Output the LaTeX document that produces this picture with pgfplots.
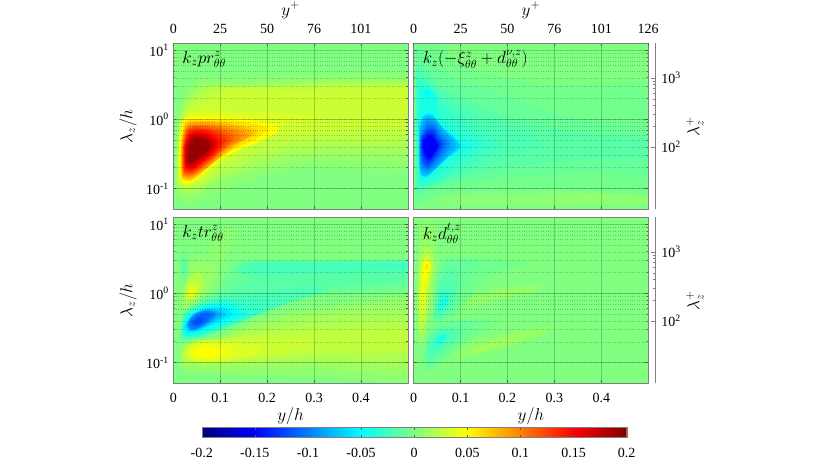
\documentclass[border=0pt]{standalone}
\usepackage{fontspec}
\setmainfont{Liberation Serif}
\usepackage{pgfplots}
\pgfplotsset{compat=1.18}

% jet levels, named by thousandths: p50 = +0.05, m50 = -0.05
\definecolor{base}{rgb}{0.5,1,0.5}
\pgfplotsforeachungrouped \lev in {5,10,...,200} {
  \pgfmathsetmacro\jr{max(0,min(1,min(0.5+\lev/100,2.5-\lev/100)))}
  \pgfmathsetmacro\jg{max(0,min(1,1.5-\lev/100))}
  \pgfmathsetmacro\jb{max(0,min(1,min(2.5+\lev/100,0.5-\lev/100)))}
  \edef\jdef{\noexpand\definecolor{p\lev}{rgb}{\jr,\jg,\jb}}\jdef
  \pgfmathsetmacro\jr{max(0,min(1,min(0.5-\lev/100,2.5+\lev/100)))}
  \pgfmathsetmacro\jb{max(0,min(1,min(2.5-\lev/100,0.5+\lev/100)))}
  \edef\jdef{\noexpand\definecolor{m\lev}{rgb}{\jr,\jg,\jb}}\jdef
}
\newcommand\cf[2]{\addplot[draw=none,fill=#1,smooth] coordinates {#2} -- cycle;}
\newcommand\tkfont{\fontsize{14}{16}\selectfont}
\newcommand\mtfont{\fontsize{17}{19}\selectfont}

\begin{document}
\begin{tikzpicture}
\path[use as bounding box] (0pt,0pt) rectangle (830pt,457pt);

% ---- k_z pr
\begin{axis}[scale only axis, width=234.6pt, height=166pt,
    xmin=0, xmax=0.5, ymode=log, ymin=0.05, ymax=12.6,
    axis line style={gray}, tick style={black!65, line width=0.5pt},
    major tick length=3pt, minor tick length=1.7pt, tick align=inside,
    ticklabel style={font=\tkfont}, label style={font=\mtfont},
    axis on top, axis background/.style={fill=base},
    xtick={0,0.1,0.2,0.3,0.4}, ytick={0.1,1,10},
    xtick pos=bottom, ytick pos=both,
    xmajorgrids, ymajorgrids, yminorgrids,
    major grid style={black, opacity=0.2, line width=0.5pt},
    minor grid style={black, dotted, opacity=0.22, line width=0.35pt},
    xticklabels={},
    yticklabels={10\textsuperscript{-1},10\textsuperscript{0},10\textsuperscript{1}},
    yticklabel style={xshift=-1pt},
    ylabel={$\lambda_z/h$},
    ylabel style={at={(axis description cs:-0.193,0.5)},anchor=center},
    at={(173.3pt,247.7pt)}, anchor=south west]
\cf{p5}{(.004,.1)(.004,.35)(.008,.9)(.018,2)(.05,3.8)(.15,4)(.55,3.9)(.55,.22)(.3,.2)(.2,.16)(.1,.09)(.04,.062)(.012,.065)}
\cf{p10}{(.006,.1)(.006,.35)(.01,.9)(.024,1.9)(.06,3.3)(.15,3.4)(.55,3.3)(.55,.3)(.3,.26)(.2,.2)(.1,.12)(.05,.08)(.015,.075)}
\cf{p15}{(.008,.11)(.007,.35)(.012,.9)(.028,1.8)(.065,3)(.15,3.15)(.55,3.1)(.55,.42)(.3,.33)(.2,.24)(.1,.14)(.05,.09)(.018,.085)}
\cf{p20}{(.009,.12)(.009,.35)(.014,.9)(.032,1.7)(.07,2.8)(.15,3)(.55,3)(.55,.52)(.3,.4)(.2,.29)(.1,.16)(.05,.1)(.02,.095)}
\cf{p25}{(.01,.12)(.01,.35)(.016,.9)(.036,1.6)(.08,2.5)(.15,2.9)(.55,2.9)(.55,.68)(.3,.5)(.2,.36)(.12,.22)(.06,.12)(.025,.1)}
\cf{p30}{(.011,.13)(.011,.35)(.018,.9)(.04,1.5)(.09,2.1)(.12,2.7)(.27,2.55)(.55,2.6)(.55,.85)(.35,.72)(.2,.5)(.12,.26)(.06,.13)(.03,.105)}
\cf{p35}{(.012,.135)(.012,.42)(.02,1)(.045,1.3)(.12,1.3)(.25,1.2)(.3,1.02)(.2,.68)(.12,.3)(.06,.14)(.03,.11)}
\cf{p40}{(.013,.14)(.013,.42)(.022,1)(.05,1.18)(.12,1.18)(.24,.92)(.18,.6)(.12,.35)(.06,.15)(.03,.115)}
\cf{p50}{(.015,.16)(.015,.42)(.024,.98)(.055,1.09)(.12,1.04)(.19,.92)(.226,.72)(.19,.5)(.14,.36)(.09,.24)(.04,.125)(.018,.125)}
\cf{p60}{(.0155,.17)(.016,.42)(.025,.93)(.055,1.0)(.12,.97)(.18,.84)(.2,.7)(.17,.5)(.13,.37)(.09,.25)(.04,.13)(.018,.135)}
\cf{p70}{(.016,.18)(.017,.42)(.026,.87)(.055,.95)(.115,.9)(.18,.68)(.14,.44)(.09,.25)(.04,.135)(.019,.14)}
\cf{p80}{(.017,.19)(.018,.42)(.027,.83)(.055,.91)(.11,.86)(.17,.65)(.13,.42)(.085,.235)(.04,.14)(.02,.145)}
\cf{p90}{(.018,.2)(.019,.42)(.028,.79)(.055,.87)(.105,.81)(.16,.6)(.115,.38)(.08,.225)(.04,.146)(.02,.152)}
\cf{p100}{(.019,.21)(.02,.42)(.029,.76)(.055,.83)(.1,.78)(.145,.58)(.11,.37)(.075,.225)(.04,.152)(.021,.158)}
\cf{p110}{(.02,.22)(.021,.42)(.03,.73)(.055,.8)(.095,.75)(.132,.56)(.105,.36)(.072,.225)(.04,.158)(.022,.165)}
\cf{p120}{(.021,.23)(.022,.42)(.031,.71)(.055,.77)(.09,.71)(.122,.54)(.1,.35)(.07,.23)(.04,.165)(.023,.17)}
\cf{p130}{(.022,.24)(.023,.42)(.032,.68)(.055,.74)(.086,.68)(.113,.52)(.095,.34)(.068,.235)(.04,.172)(.024,.18)}
\cf{p140}{(.023,.25)(.024,.42)(.034,.65)(.055,.7)(.082,.65)(.105,.49)(.09,.33)(.065,.24)(.04,.18)(.025,.19)}
\cf{p150}{(.024,.26)(.025,.42)(.036,.62)(.055,.66)(.078,.61)(.097,.46)(.085,.33)(.062,.24)(.04,.19)(.026,.2)}
\cf{p160}{(.025,.27)(.027,.42)(.038,.6)(.055,.63)(.075,.58)(.092,.45)(.08,.33)(.06,.25)(.04,.2)(.027,.21)}
\cf{p170}{(.026,.28)(.029,.42)(.04,.58)(.055,.6)(.072,.56)(.087,.44)(.076,.33)(.058,.26)(.04,.21)(.028,.22)}
\cf{p180}{(.028,.29)(.031,.42)(.04,.55)(.055,.57)(.07,.53)(.082,.43)(.072,.33)(.055,.27)(.04,.225)(.03,.23)}
\cf{p190}{(.03,.3)(.035,.43)(.05,.53)(.065,.5)(.077,.42)(.07,.34)(.055,.29)(.04,.24)(.032,.25)}
\node[font=\mtfont,anchor=west] at (axis cs:.012,7.4) {$k_z pr^z_{\theta\theta}$};
\end{axis}
% top scale, left
\begin{axis}[scale only axis, width=234.6pt, height=166pt,
    xmin=0, xmax=0.5, ymin=0, ymax=1,
    axis line style={gray}, tick style={black!65, line width=0.5pt},
    major tick length=3pt, tick align=inside,
    ticklabel style={font=\tkfont}, label style={font=\mtfont},
    hide y axis, axis x line*=top,
    xtick={0,0.1,0.2,0.3,0.4}, xticklabels={0,25,50,76,101},
    xticklabel style={yshift=6.5pt},
    xlabel={$y^+$},
    xlabel style={at={(axis description cs:0.5,1.2)},anchor=center},
    at={(173.3pt,247.7pt)}, anchor=south west]
\addplot[draw=none] coordinates {(0,0.5)(0.5,0.5)};
\end{axis}

% ---- k_z(-xi + d^nu)
\begin{axis}[scale only axis, width=234.6pt, height=166pt,
    xmin=0, xmax=0.5, ymode=log, ymin=0.05, ymax=12.6,
    axis line style={gray}, tick style={black!65, line width=0.5pt},
    major tick length=3pt, minor tick length=1.7pt, tick align=inside,
    ticklabel style={font=\tkfont}, label style={font=\mtfont},
    axis on top, axis background/.style={fill=base},
    xtick={0,0.1,0.2,0.3,0.4}, ytick={0.1,1,10},
    xtick pos=bottom, ytick pos=both,
    xmajorgrids, ymajorgrids, yminorgrids,
    major grid style={black, opacity=0.2, line width=0.5pt},
    minor grid style={black, dotted, opacity=0.22, line width=0.35pt},
    xticklabels={}, yticklabels={},
    at={(413.6pt,247.7pt)}, anchor=south west]
\cf{p5}{(.04,.072)(.2,.075)(.3,.084)(.55,.09)(.55,.062)(.3,.058)(.1,.06)}
\cf{p10}{(.33,.076)(.37,.08)(.42,.075)(.37,.07)}
\cf{m5}{(.002,14)(.05,14)(.1,6)(.2,4)(.3,3.2)(.55,2.7)(.55,.1)(.3,.098)(.15,.09)(.07,.085)(.03,.065)(.01,.058)(.002,.1)(.002,1)}
\cf{m10}{(.003,11)(.02,10)(.05,5.5)(.1,3.6)(.2,2.2)(.35,1.0)(.55,.62)(.55,.17)(.35,.17)(.2,.145)(.1,.115)(.04,.09)(.015,.075)(.004,.085)(.003,1)}
\cf{m15}{(.004,6)(.02,6)(.05,3.4)(.1,2.2)(.2,1.1)(.35,.65)(.55,.5)(.55,.29)(.35,.26)(.2,.2)(.1,.14)(.04,.105)(.015,.09)(.005,.1)(.004,1)}
\cf{m20}{(.005,5)(.02,4.7)(.05,2.9)(.1,1.7)(.17,.95)(.25,.6)(.27,.42)(.2,.28)(.1,.165)(.04,.115)(.015,.1)(.006,.11)(.005,1)}
\cf{m25}{(.006,4.2)(.02,4)(.05,2.5)(.09,1.4)(.14,.8)(.185,.42)(.13,.24)(.07,.135)(.03,.108)(.01,.115)(.006,1)}
\cf{m30}{(.007,3.6)(.02,3.4)(.045,2.2)(.08,1.2)(.12,.7)(.16,.42)(.11,.25)(.06,.14)(.03,.115)(.012,.125)(.008,1)}
\cf{m35}{(.009,3.1)(.02,3)(.035,2.2)(.06,1.1)(.1,.65)(.14,.42)(.09,.25)(.05,.15)(.025,.125)(.012,.135)(.009,1)}
\cf{m40}{(.012,2.6)(.03,2.9)(.048,2.2)(.055,1.1)(.09,.62)(.125,.42)(.08,.26)(.045,.16)(.025,.135)(.013,.15)(.01,.8)}
\cf{m50}{(.012,.9)(.022,1.2)(.04,1.2)(.06,.8)(.105,.42)(.07,.27)(.04,.17)(.025,.145)(.014,.165)(.011,.4)}
\cf{m50}{(.022,2.4)(.03,2.7)(.037,2.4)(.03,2.1)}
\cf{m60}{(.012,.85)(.023,1.16)(.041,1.15)(.06,.78)(.1,.42)(.07,.272)(.041,.175)(.0255,.147)(.014,.168)(.0112,.4)}
\cf{m70}{(.0125,.8)(.024,1.12)(.042,1.1)(.061,.76)(.097,.42)(.07,.275)(.042,.18)(.026,.15)(.0145,.17)(.0115,.4)}
\cf{m80}{(.013,.7)(.025,1.05)(.045,1.0)(.062,.72)(.09,.43)(.07,.28)(.045,.19)(.028,.16)(.015,.18)(.012,.4)}
\cf{m90}{(.014,.6)(.027,.95)(.045,.9)(.058,.68)(.08,.44)(.065,.29)(.045,.2)(.03,.175)(.016,.2)(.013,.4)}
\cf{m100}{(.015,.55)(.028,.85)(.045,.82)(.056,.62)(.073,.44)(.06,.3)(.043,.215)(.03,.19)(.017,.22)(.014,.4)}
\cf{m110}{(.016,.55)(.03,.78)(.045,.75)(.054,.58)(.067,.44)(.056,.31)(.041,.23)(.03,.2)(.018,.24)(.015,.4)}
\cf{m120}{(.017,.55)(.03,.72)(.044,.69)(.052,.55)(.062,.44)(.053,.32)(.04,.245)(.03,.215)(.019,.26)(.016,.4)}
\cf{m130}{(.018,.53)(.031,.67)(.043,.64)(.05,.52)(.058,.44)(.05,.33)(.04,.26)(.031,.235)(.021,.28)(.017,.4)}
\cf{m140}{(.019,.5)(.032,.62)(.042,.6)(.048,.5)(.055,.43)(.048,.34)(.039,.275)(.032,.255)(.022,.3)(.018,.4)}
\cf{m150}{(.02,.48)(.032,.57)(.041,.56)(.046,.48)(.052,.43)(.046,.35)(.038,.29)(.032,.27)(.024,.32)(.02,.4)}
\node[font=\mtfont,anchor=west] at (axis cs:.012,7.4) {$k_z(-\xi^z_{\theta\theta}+d^{\nu,z}_{\theta\theta})$};
\end{axis}
% top scale, right
\begin{axis}[scale only axis, width=234.6pt, height=166pt,
    xmin=0, xmax=0.5, ymin=0, ymax=1,
    axis line style={gray}, tick style={black!65, line width=0.5pt},
    major tick length=3pt, tick align=inside,
    ticklabel style={font=\tkfont}, label style={font=\mtfont},
    hide y axis, axis x line*=top,
    xtick={0,0.1,0.2,0.3,0.4,0.5}, xticklabels={0,25,50,76,101,126},
    xticklabel style={yshift=6.5pt},
    xlabel={$y^+$},
    xlabel style={at={(axis description cs:0.5,1.2)},anchor=center},
    at={(413.6pt,247.7pt)}, anchor=south west]
\addplot[draw=none] coordinates {(0,0.5)(0.5,0.5)};
\end{axis}
% lambda+ scale, top
\begin{axis}[scale only axis, width=7pt, height=166pt,
    ymode=log, ymin=12.6, ymax=3175, xmin=0, xmax=1,
    hide x axis, axis y line*=right,
    axis line style={gray}, tick style={gray, line width=0.5pt},
    major tick length=4pt, minor tick length=2.6pt, tick align=inside,
    ytick={100,1000}, yticklabels={10\textsuperscript{2},10\textsuperscript{3}},
    ticklabel style={font=\tkfont}, label style={font=\mtfont},
    yticklabel style={xshift=2.5pt},
    ylabel={$\lambda_z^+$},
    ylabel style={at={(axis description cs:6.67,0.5)},anchor=center},
    at={(648.3pt,247.7pt)}, anchor=south west]
\addplot[draw=none] coordinates {(0.5,100)(0.5,1000)};
\end{axis}

% ---- k_z tr
\begin{axis}[scale only axis, width=234.6pt, height=166pt,
    xmin=0, xmax=0.5, ymode=log, ymin=0.05, ymax=12.6,
    axis line style={gray}, tick style={black!65, line width=0.5pt},
    major tick length=3pt, minor tick length=1.7pt, tick align=inside,
    ticklabel style={font=\tkfont}, label style={font=\mtfont},
    axis on top, axis background/.style={fill=base},
    xtick={0,0.1,0.2,0.3,0.4}, ytick={0.1,1,10},
    xtick pos=bottom, ytick pos=both,
    xmajorgrids, ymajorgrids, yminorgrids,
    major grid style={black, opacity=0.2, line width=0.5pt},
    minor grid style={black, dotted, opacity=0.22, line width=0.35pt},
    xticklabels={0,0.1,0.2,0.3,0.4},
    xticklabel style={yshift=-6.5pt},
    xlabel={$y/h$},
    xlabel style={at={(axis description cs:0.5,-0.2)},anchor=center},
    yticklabels={10\textsuperscript{-1},10\textsuperscript{0},10\textsuperscript{1}},
    yticklabel style={xshift=-1pt},
    ylabel={$\lambda_z/h$},
    ylabel style={at={(axis description cs:-0.193,0.5)},anchor=center},
    at={(173.3pt,73.7pt)}, anchor=south west]
\cf{p5}{(.012,.09)(.015,.18)(.03,.2)(.08,.21)(.13,.3)(.2,.45)(.3,.62)(.55,.85)(.55,.06)(.3,.062)(.1,.066)(.03,.07)}
\cf{p10}{(.014,.1)(.02,.16)(.05,.205)(.1,.23)(.15,.32)(.22,.45)(.3,.55)(.55,.72)(.55,.075)(.3,.08)(.1,.078)(.03,.08)}
\cf{p15}{(.016,.11)(.022,.16)(.05,.205)(.1,.225)(.15,.29)(.22,.38)(.3,.46)(.55,.55)(.55,.095)(.3,.095)(.1,.09)(.03,.09)}
\cf{p20}{(.018,.12)(.025,.17)(.05,.205)(.1,.22)(.17,.27)(.3,.36)(.55,.4)(.55,.12)(.3,.115)(.1,.097)(.035,.098)}
\cf{p25}{(.02,.125)(.03,.175)(.06,.205)(.1,.215)(.17,.25)(.3,.29)(.55,.3)(.55,.15)(.3,.135)(.1,.102)(.04,.102)}
\cf{p30}{(.025,.125)(.035,.178)(.07,.205)(.12,.21)(.2,.22)(.3,.21)(.25,.14)(.12,.11)(.05,.105)}
\cf{p35}{(.028,.125)(.04,.18)(.08,.2)(.12,.195)(.19,.17)(.17,.125)(.1,.105)(.05,.105)}
\cf{p40}{(.032,.13)(.045,.175)(.08,.19)(.12,.175)(.14,.145)(.1,.112)(.055,.11)}
\cf{p45}{(.036,.13)(.05,.17)(.08,.18)(.105,.16)(.115,.135)(.08,.115)(.05,.115)}
\cf{p50}{(.042,.135)(.06,.165)(.085,.165)(.098,.145)(.08,.12)(.055,.12)}
\cf{p5}{(.015,.65)(.018,1.2)(.035,3)(.07,4)(.1,8)(.13,8)(.125,5)(.1,2.5)(.09,1.4)(.075,.95)(.06,.85)(.04,.72)(.025,.6)}
\cf{p10}{(.02,.7)(.022,1.3)(.04,2.6)(.07,2.7)(.085,2)(.075,1.1)(.06,.9)(.04,.75)(.03,.62)}
\cf{p20}{(.024,.75)(.027,1.4)(.045,2.0)(.06,1.9)(.065,1.3)(.055,.95)(.04,.78)}
\cf{p30}{(.027,.8)(.03,1.3)(.045,1.5)(.055,1.35)(.05,.98)(.04,.82)}
\cf{p40}{(.032,.88)(.035,1.2)(.045,1.25)(.05,1.1)(.044,.92)}
\cf{m5}{(.55,3.2)(.3,3.0)(.2,3.1)(.15,3.2)(.12,2.5)(.1,1.3)(.075,.98)(.05,.72)(.02,.35)(.012,.22)(.018,.19)(.03,.215)(.06,.22)(.1,.3)(.15,.42)(.2,.55)(.3,.88)(.55,1.1)}
\cf{m5}{(.015,1.8)(.015,3)(.022,4.5)(.03,3.5)(.033,2)(.025,1.3)}
\cf{m10}{(.55,3)(.3,2.85)(.2,2.9)(.14,2.6)(.12,1.6)(.1,1.1)(.08,.9)(.05,.66)(.025,.4)(.014,.24)(.02,.205)(.035,.222)(.065,.235)(.1,.33)(.15,.47)(.2,.65)(.3,1.0)(.55,1.25)}
\cf{m10}{(.018,2)(.018,3)(.023,3.8)(.028,3)(.028,2.1)(.024,1.7)}
\cf{m15}{(.55,2.85)(.3,2.6)(.2,2.3)(.16,1.6)(.13,1.15)(.1,.95)(.08,.82)(.05,.6)(.028,.4)(.015,.26)(.022,.212)(.035,.225)(.065,.235)(.1,.31)(.15,.45)(.2,.75)(.3,1.15)(.55,1.6)}
\cf{m20}{(.02,2.2)(.021,3)(.025,3)(.026,2.3)(.023,2)}
\cf{m20}{(.55,3.0)(.3,2.95)(.2,2.9)(.15,2.7)(.14,2.0)(.2,1.8)(.3,1.9)(.55,2.05)}
\cf{m20}{(.016,.28)(.024,.22)(.05,.23)(.1,.29)(.16,.43)(.23,.66)(.33,1.2)(.25,1.2)(.18,1.05)(.12,.92)(.07,.78)(.03,.58)(.02,.44)}
\cf{m25}{(.55,2.8)(.4,2.6)(.3,2.55)(.2,2.45)(.16,2.5)(.2,2.2)(.3,2.25)(.55,2.3)}
\cf{m25}{(.017,.29)(.025,.228)(.05,.235)(.098,.295)(.15,.41)(.21,.6)(.22,.8)(.17,.88)(.11,.85)(.07,.74)(.033,.58)(.021,.44)}
\cf{m30}{(.018,.3)(.026,.235)(.05,.24)(.095,.3)(.14,.4)(.185,.55)(.155,.72)(.11,.8)(.07,.71)(.035,.56)(.022,.44)}
\cf{m40}{(.02,.31)(.028,.245)(.05,.25)(.09,.31)(.13,.41)(.16,.5)(.14,.65)(.105,.73)(.07,.68)(.04,.53)(.025,.44)}
\cf{m50}{(.022,.32)(.03,.26)(.05,.27)(.085,.33)(.12,.42)(.14,.5)(.125,.62)(.1,.67)(.07,.64)(.045,.52)(.028,.42)}
\cf{m60}{(.024,.33)(.032,.275)(.05,.28)(.08,.345)(.11,.43)(.125,.5)(.115,.6)(.09,.63)(.065,.6)(.042,.5)(.03,.41)}
\cf{m70}{(.027,.34)(.034,.29)(.052,.295)(.08,.36)(.102,.44)(.112,.5)(.1,.57)(.08,.6)(.06,.57)(.04,.49)}
\cf{m80}{(.029,.35)(.037,.3)(.055,.31)(.08,.38)(.097,.46)(.1,.52)(.085,.57)(.065,.57)(.047,.51)(.034,.42)}
\cf{m90}{(.03,.35)(.038,.3)(.057,.32)(.08,.4)(.092,.48)(.09,.53)(.075,.56)(.056,.53)(.04,.45)}
\cf{m100}{(.031,.35)(.04,.3)(.06,.33)(.08,.42)(.088,.5)(.07,.56)(.05,.5)(.037,.43)}
\cf{m110}{(.037,.36)(.048,.33)(.062,.36)(.075,.43)(.08,.49)(.068,.52)(.052,.47)(.04,.41)}
\cf{m120}{(.042,.36)(.055,.36)(.065,.41)(.062,.46)(.05,.44)}
\node[font=\mtfont,anchor=west] at (axis cs:.012,7.4) {$k_z tr^z_{\theta\theta}$};
\end{axis}

% ---- k_z d^t
\begin{axis}[scale only axis, width=234.6pt, height=166pt,
    xmin=0, xmax=0.5, ymode=log, ymin=0.05, ymax=12.6,
    axis line style={gray}, tick style={black!65, line width=0.5pt},
    major tick length=3pt, minor tick length=1.7pt, tick align=inside,
    ticklabel style={font=\tkfont}, label style={font=\mtfont},
    axis on top, axis background/.style={fill=base},
    xtick={0,0.1,0.2,0.3,0.4}, ytick={0.1,1,10},
    xtick pos=bottom, ytick pos=both,
    xmajorgrids, ymajorgrids, yminorgrids,
    major grid style={black, opacity=0.2, line width=0.5pt},
    minor grid style={black, dotted, opacity=0.22, line width=0.35pt},
    xticklabels={0,0.1,0.2,0.3,0.4},
    xticklabel style={yshift=-6.5pt},
    xlabel={$y/h$},
    xlabel style={at={(axis description cs:0.5,-0.2)},anchor=center},
    yticklabels={},
    at={(413.6pt,73.7pt)}, anchor=south west]
\cf{p5}{(.009,.2)(.007,1)(.01,4)(.018,13)(.045,13)(.05,5)(.052,3)(.045,1.7)(.04,.8)(.03,.35)(.02,.17)}
\cf{p10}{(.01,.22)(.008,1)(.012,3.5)(.02,7.5)(.035,7.5)(.045,3.5)(.045,2)(.04,1)(.03,.4)(.02,.2)}
\cf{p20}{(.012,.27)(.01,1)(.014,3)(.025,4.5)(.037,4)(.042,2.5)(.036,1.3)(.03,.6)(.02,.27)}
\cf{p30}{(.014,.33)(.012,1)(.016,2.5)(.026,3.5)(.036,3.2)(.038,2.2)(.031,1.1)(.024,.5)}
\cf{p40}{(.017,.5)(.016,1)(.018,2.4)(.026,3.1)(.034,2.9)(.035,2.2)(.028,1.3)(.022,.7)}
\cf{p50}{(.02,1.3)(.021,2.3)(.027,2.9)(.033,2.7)(.033,2.2)(.027,1.7)}
\cf{p60}{(.024,2.3)(.028,2.7)(.032,2.5)(.03,2.2)}
\cf{p5}{(.09,.66)(.13,.9)(.2,1.25)(.28,1.3)(.24,1)(.16,.72)(.1,.58)}
\cf{p10}{(.1,.72)(.15,.95)(.2,1.15)(.27,1.18)(.22,.97)(.15,.78)}
\cf{p5}{(.08,.12)(.1,.18)(.15,.23)(.22,.29)(.3,.33)(.28,.26)(.2,.165)(.14,.13)(.1,.11)}
\cf{p10}{(.1,.125)(.13,.17)(.2,.25)(.29,.31)(.26,.24)(.2,.18)(.14,.14)}
\cf{p15}{(.12,.14)(.16,.18)(.22,.22)(.2,.19)(.15,.15)}
\cf{m5}{(.04,.38)(.045,1)(.05,2)(.065,3.2)(.1,3.3)(.24,2.9)(.2,2.2)(.15,1.5)(.12,.85)(.1,.6)(.08,.42)(.055,.33)}
\cf{m10}{(.042,.42)(.047,1)(.053,1.9)(.07,3)(.1,3.1)(.15,2.9)(.13,2.3)(.11,1.4)(.1,.85)(.085,.55)(.06,.4)}
\cf{m15}{(.044,.44)(.05,1)(.06,1.7)(.075,2.4)(.09,2.3)(.095,1.5)(.09,.9)(.08,.58)(.06,.44)}
\cf{m20}{(.046,.48)(.052,1)(.065,1.4)(.08,1.4)(.088,1.0)(.078,.62)(.06,.48)}
\cf{m30}{(.049,.55)(.056,.95)(.068,1.1)(.078,.95)(.072,.66)(.06,.55)}
\cf{m40}{(.052,.62)(.06,.85)(.07,.9)(.072,.78)(.065,.65)}
\cf{m5}{(.02,.14)(.022,.09)(.035,.075)(.05,.09)(.07,.115)(.1,.17)(.14,.26)(.18,.4)(.14,.43)(.1,.42)(.07,.4)(.04,.33)(.028,.25)}
\cf{m10}{(.023,.14)(.025,.1)(.035,.085)(.05,.1)(.075,.14)(.105,.22)(.13,.38)(.09,.4)(.06,.36)(.04,.3)(.03,.22)}
\cf{m15}{(.026,.14)(.03,.11)(.04,.105)(.055,.125)(.08,.18)(.105,.26)(.085,.32)(.06,.32)(.042,.27)(.032,.2)}
\cf{m20}{(.03,.15)(.035,.125)(.045,.13)(.06,.16)(.08,.21)(.09,.27)(.07,.29)(.05,.27)(.04,.22)}
\cf{m30}{(.04,.16)(.05,.16)(.065,.19)(.075,.24)(.065,.27)(.05,.25)}
\cf{m40}{(.048,.19)(.06,.2)(.068,.24)(.06,.25)(.052,.23)}
\node[font=\mtfont,anchor=west] at (axis cs:.012,7.4) {$k_z d^{t,z}_{\theta\theta}$};
\end{axis}
% lambda+ scale, bottom
\begin{axis}[scale only axis, width=7pt, height=166pt,
    ymode=log, ymin=12.6, ymax=3175, xmin=0, xmax=1,
    hide x axis, axis y line*=right,
    axis line style={gray}, tick style={gray, line width=0.5pt},
    major tick length=4pt, minor tick length=2.6pt, tick align=inside,
    ytick={100,1000}, yticklabels={10\textsuperscript{2},10\textsuperscript{3}},
    ticklabel style={font=\tkfont}, label style={font=\mtfont},
    yticklabel style={xshift=2.5pt},
    ylabel={$\lambda_z^+$},
    ylabel style={at={(axis description cs:6.67,0.5)},anchor=center},
    at={(648.3pt,73.7pt)}, anchor=south west]
\addplot[draw=none] coordinates {(0.5,100)(0.5,1000)};
\end{axis}

% ---- colour bar
\begin{axis}[
  hide axis, scale only axis, width=425pt, height=10pt,
  at={(201.7pt,28.2pt)}, anchor=south west,
  colormap/jet, point meta min=-0.2, point meta max=0.2,
  colorbar horizontal,
  colorbar style={
    at={(parent axis.south west)}, anchor=south west,
    scale only axis, width=425pt, height=10pt,
    axis line style={gray},
    xtick={-0.2,-0.15,-0.1,-0.05,0,0.05,0.1,0.15,0.2},
    xticklabels={-0.2,-0.15,-0.1,-0.05,0,0.05,0.1,0.15,0.2},
    xticklabel style={font=\tkfont,yshift=-7pt},
    tick align=inside, major tick length=2.5pt,
    tick style={black!65, line width=0.4pt},
  },
]
\addplot[draw=none] coordinates {(0,0)(1,1)};
\end{axis}
\end{tikzpicture}
\end{document}
